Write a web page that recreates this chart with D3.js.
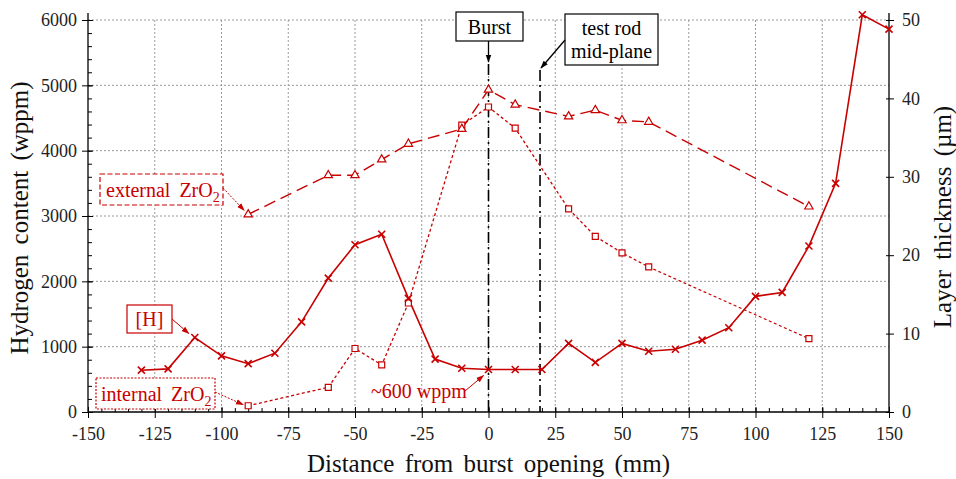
<!DOCTYPE html>
<html><head><meta charset="utf-8">
<script src="https://cdn.jsdelivr.net/npm/d3@7"></script>
<style>
html,body{margin:0;padding:0;background:#fff;}
svg{display:block;}
svg text{font-family:"Liberation Serif","DejaVu Serif",serif !important;}
</style></head>
<body>
<svg id="chart" width="956" height="479" font-family="Liberation Serif, DejaVu Serif, serif"></svg>
<script>
// ---------- data ----------
const xTicks = [-150,-125,-100,-75,-50,-25,0,25,50,75,100,125,150];
const yTicksLeft = [0,1000,2000,3000,4000,5000,6000];
const yTicksRight = [0,10,20,30,40,50];

const hX   = [-130,-120,-110,-100,-90,-80,-70,-60,-50,-40,-30,-20,-10,0,10,20,30,40,50,60,70,80,90,100,110,120,130,140,150];
const hVal = [640,660,1140,860,740,900,1380,2050,2560,2720,1740,810,670,650,650,650,1050,760,1050,930,960,1100,1290,1770,1830,2540,3500,6080,5860];

const extX   = [-90,-60,-50,-40,-30,-10,0,10,30,40,50,60,120];
const extVal = [25.2,30.2,30.2,32.2,34.2,36.1,41.1,39.2,37.7,38.5,37.2,37.0,26.2];

const intX   = [-90,-60,-50,-40,-30,-10,0,10,30,40,50,60,120];
const intVal = [0.8,3.15,8.1,6.0,13.9,36.6,38.9,36.2,25.9,22.4,20.3,18.5,9.35];

const burstX = 0;
const midPlaneX = 19.3;

// ---------- layout ----------
const L = 88, R = 889, T = 20, B = 412;
const red = "#c80000";
const FONT = "Liberation Serif, DejaVu Serif, serif";
const svg = d3.select("#chart");

const x = d3.scaleLinear().domain([-150,150]).range([L,R]);
const yL = d3.scaleLinear().domain([0,6000]).range([B,T]);
const yR = d3.scaleLinear().domain([0,50]).range([B,T]);
const fmt = d => String(d);

const defs = svg.append("defs");
function arrowDef(id, color){
  defs.append("marker").attr("id",id).attr("viewBox","0 0 10 10")
    .attr("refX",9).attr("refY",5).attr("markerWidth",8).attr("markerHeight",8)
    .attr("markerUnits","userSpaceOnUse").attr("orient","auto")
    .append("path").attr("d","M0,1.5 L10,5 L0,8.5 Z").attr("fill",color);
}
arrowDef("arRed", red);
arrowDef("arBlk", "#000");

const grid = svg.append("g").attr("stroke","#9a9a9a").attr("stroke-width",1).attr("stroke-dasharray","2,2");
grid.selectAll("line.v").data(xTicks.slice(1,-1)).join("line")
  .attr("x1",d=>x(d)).attr("x2",d=>x(d)).attr("y1",T).attr("y2",B);
grid.selectAll("line.h").data(yTicksLeft.slice(1)).join("line")
  .attr("x1",L).attr("x2",R).attr("y1",d=>yL(d)).attr("y2",d=>yL(d));

const axStyle = g => {
  g.attr("font-family",FONT);
  g.selectAll(".domain").remove();
  g.selectAll("text").attr("font-family",FONT).attr("font-size",18).attr("fill","#222");
  g.selectAll("line").attr("stroke","#000");
};

svg.append("g").attr("transform",`translate(0,${B})`)
  .call(d3.axisBottom(x).tickValues(d3.range(-150,151,5)).tickSize(-4).tickFormat(""))
  .call(axStyle);
const bx = svg.append("g").attr("transform",`translate(0,${B})`)
  .call(d3.axisBottom(x).tickValues(xTicks).tickSize(6).tickFormat(fmt))
  .call(axStyle);
bx.selectAll(".tick line").attr("y1",-5);
bx.selectAll(".tick text").attr("dy","0.71em").attr("y",15);

svg.append("g").attr("transform",`translate(${L},0)`)
  .call(d3.axisLeft(yL).tickValues(d3.range(0,6001,200)).tickSize(-4).tickFormat(""))
  .call(axStyle);
const ly = svg.append("g").attr("transform",`translate(${L},0)`)
  .call(d3.axisLeft(yL).tickValues(yTicksLeft).tickSize(6).tickPadding(5).tickFormat(fmt))
  .call(axStyle);
ly.selectAll(".tick line").attr("x1",5);

const ry = svg.append("g").attr("transform",`translate(${R},0)`)
  .call(d3.axisRight(yR).tickValues(yTicksRight).tickSize(5).tickPadding(8).tickFormat(fmt))
  .call(axStyle);
ry.selectAll(".tick line").attr("x1",-3);

svg.append("line").attr("x1",L).attr("x2",L).attr("y1",13).attr("y2",B).attr("stroke","#000").attr("stroke-width",1.3);
svg.append("line").attr("x1",R).attr("x2",R).attr("y1",13).attr("y2",B).attr("stroke","#000").attr("stroke-width",1.3);
svg.append("line").attr("x1",L).attr("x2",R).attr("y1",B).attr("y2",B).attr("stroke","#000").attr("stroke-width",1.3);

function txt(parent){ return parent.append("text").attr("font-family",FONT); }

txt(svg).attr("x",(L+R)/2).attr("y",472).attr("text-anchor","middle")
  .attr("font-size",25).attr("word-spacing",4).attr("fill","#111").text("Distance from burst opening (mm)");
txt(svg).attr("transform",`translate(28,${(T+B)/2+2}) rotate(-90)`).attr("text-anchor","middle")
  .attr("font-size",25).attr("word-spacing",4).attr("fill","#111").text("Hydrogen content (wppm)");
txt(svg).attr("transform",`translate(951,${(T+B)/2+1}) rotate(-90)`).attr("text-anchor","middle")
  .attr("font-size",25).attr("word-spacing",4).attr("fill","#111").text("Layer thickness (µm)");

svg.append("line").attr("x1",x(burstX)).attr("x2",x(burstX)).attr("y1",64).attr("y2",B)
  .attr("stroke","#000").attr("stroke-width",1.6).attr("stroke-dasharray","11,4,2,4");
svg.append("line").attr("x1",x(midPlaneX)).attr("x2",x(midPlaneX)).attr("y1",70).attr("y2",B)
  .attr("stroke","#000").attr("stroke-width",1.6).attr("stroke-dasharray","11,4,2,4");

const hData = hX.map((d,i)=>[d,hVal[i]]);
const extData = extX.map((d,i)=>[d,extVal[i]]);
const intData = intX.map((d,i)=>[d,intVal[i]]);

const lineL = d3.line().x(d=>x(d[0])).y(d=>yL(d[1]));
const lineR = d3.line().x(d=>x(d[0])).y(d=>yR(d[1]));

svg.append("path").datum(intData).attr("d",lineR).attr("fill","none").attr("stroke",red)
  .attr("stroke-width",1.3).attr("stroke-dasharray","3,2.5");
svg.append("path").datum(extData).attr("d",lineR).attr("fill","none").attr("stroke",red)
  .attr("stroke-width",1.4).attr("stroke-dasharray","12,6");
svg.append("path").datum(hData).attr("d",lineL).attr("fill","none").attr("stroke",red)
  .attr("stroke-width",1.6);

const sq = d3.symbol().type(d3.symbolSquare).size(36);
svg.append("g").selectAll("path").data(intData).join("path")
  .attr("transform",d=>`translate(${x(d[0])},${yR(d[1])})`).attr("d",sq)
  .attr("fill","#fff").attr("stroke",red).attr("stroke-width",1.2);
const tri = d3.symbol().type(d3.symbolTriangle).size(30);
svg.append("g").selectAll("path").data(extData).join("path")
  .attr("transform",d=>`translate(${x(d[0])},${yR(d[1])})`).attr("d",tri)
  .attr("fill","#fff").attr("stroke",red).attr("stroke-width",1.2);
svg.append("g").selectAll("path").data(hData).join("path")
  .attr("transform",d=>`translate(${x(d[0])},${yL(d[1])})`).attr("d","M-3.5,-3.5L3.5,3.5M-3.5,3.5L3.5,-3.5")
  .attr("fill","none").attr("stroke",red).attr("stroke-width",1.6);

function box(x0,y0,w,h,stroke,dash){
  return svg.append("rect").attr("x",x0).attr("y",y0).attr("width",w).attr("height",h)
    .attr("fill","#fff").attr("stroke",stroke).attr("stroke-width",1.2).attr("stroke-dasharray",dash||null);
}
function arrow(x1,y1,x2,y2,color,marker,dash,w){
  svg.append("line").attr("x1",x1).attr("y1",y1).attr("x2",x2).attr("y2",y2)
    .attr("stroke",color).attr("stroke-width",w||1).attr("stroke-dasharray",dash||null)
    .attr("marker-end",`url(#${marker})`);
}

box(456,12,67,29,"#000");
txt(svg).attr("x",489.5).attr("y",34).attr("text-anchor","middle").attr("font-size",20).attr("fill","#000").text("Burst");
arrow(x(burstX),41,x(burstX),62,"#000","arBlk",null,1.3);

box(565,14,93,51,"#000");
txt(svg).attr("x",611.5).attr("y",35).attr("text-anchor","middle").attr("font-size",20).attr("fill","#000").text("test rod");
txt(svg).attr("x",611.5).attr("y",58).attr("text-anchor","middle").attr("font-size",20).attr("fill","#000").text("mid-plane");
arrow(565,40,x(midPlaneX)+1,68,"#000","arBlk",null,1.3);

box(100,174,123,31,red,"5,2.5");
const te = txt(svg).attr("x",106).attr("y",197).attr("font-size",20).attr("fill",red).attr("word-spacing",4);
te.append("tspan").text("external ZrO");
te.append("tspan").attr("font-size",14).attr("dy",5).text("2");
arrow(223,188,x(extX[0])-4,yR(extVal[0])-4,red,"arRed","2,1.5",1);

box(127,305,45,28,red);
txt(svg).attr("x",149.5).attr("y",326).attr("text-anchor","middle").attr("font-size",20).attr("fill",red).text("[H]");
arrow(172,319,x(hX[2])-6,yL(hVal[2])-4,red,"arRed",null,1);

box(96,378,119,31,red,"2,1.5");
const ti = txt(svg).attr("x",101).attr("y",401).attr("font-size",20).attr("fill",red).attr("word-spacing",4);
ti.append("tspan").text("internal ZrO");
ti.append("tspan").attr("font-size",14).attr("dy",5).text("2");
arrow(215,392,x(intX[0])-5,yR(intVal[0])-1,red,"arRed","2,1.5",1);

txt(svg).attr("x",371).attr("y",398).attr("font-size",20).attr("fill",red).text("~600 wppm");
arrow(465,391,x(0)-5,yL(650)+6,red,"arRed",null,1);
</script>
</body></html>
